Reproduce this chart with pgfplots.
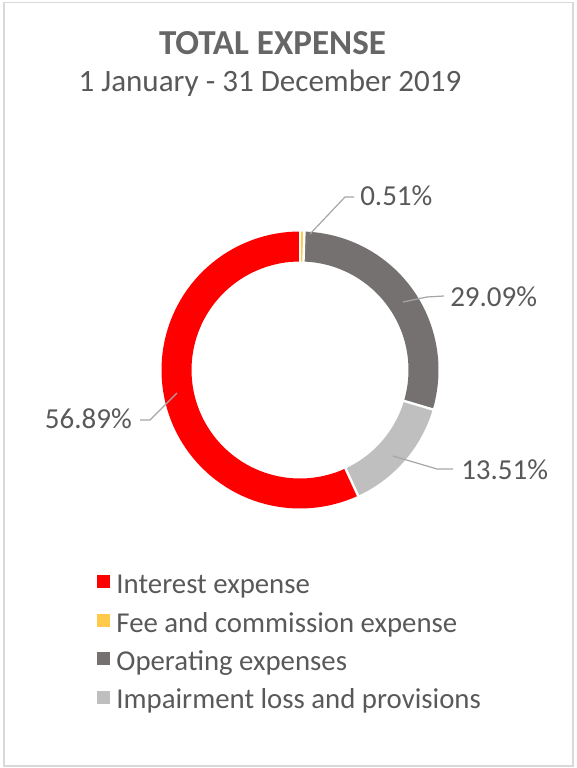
\documentclass[border=0pt]{standalone}
\usepackage{pgfplots}
\pgfplotsset{compat=1.18}
\usepackage{pgfplotstable}
\usepackage{fontspec}
\setmainfont{Carlito}
\definecolor{cRed}{HTML}{FF0000}
\definecolor{cYel}{HTML}{FFC94A}
\definecolor{cDark}{HTML}{767171}
\definecolor{cLight}{HTML}{BFBFBF}
\definecolor{txt}{HTML}{595959}
\definecolor{ttl}{HTML}{666666}
\definecolor{lead}{HTML}{A6A6A6}
\definecolor{frame}{HTML}{D9D9D9}

\pgfplotstableread{
name value
Interest 56.89
Fee 0.51
Operating 29.09
Impairment 13.51
}\expdata

\pgfplotstablegetelem{0}{value}\of\expdata \let\vInt\pgfplotsretval
\pgfplotstablegetelem{1}{value}\of\expdata \let\vFee\pgfplotsretval
\pgfplotstablegetelem{2}{value}\of\expdata \let\vOpe\pgfplotsretval
\pgfplotstablegetelem{3}{value}\of\expdata \let\vImp\pgfplotsretval

% cumulative angles, counter-clockwise from the top
\pgfmathsetmacro\aA{90}
\pgfmathsetmacro\aB{\aA+3.6*\vInt}
\pgfmathsetmacro\aC{\aB+3.6*\vImp}
\pgfmathsetmacro\aD{\aC+3.6*\vOpe}
\pgfmathsetmacro\aE{\aD+3.6*\vFee}

\newcommand{\seg}[3]{%
  \addplot[draw=#1, line width=22.5pt, domain=#2:#3, samples=80, variable=\t, forget plot]
    ({300+123.5*cos(t)},{-370+123.5*sin(t)});}
\newcommand{\sep}[1]{%
  \addplot[draw=white, line width=1.8pt, domain=105:142, samples=2, variable=\r, forget plot]
    ({300+r*cos(#1)},{-370+r*sin(#1)});}
\newcommand{\legsq}[1]{\fill[#1] (0pt,-1pt) rectangle (9pt,8pt); \path (13pt,0pt);}

\begin{document}
\begin{tikzpicture}
\begin{axis}[
  width=432pt, height=576pt, scale only axis,
  xmin=0, xmax=576, ymin=-768, ymax=0,
  axis lines=none, clip=false,
  legend cell align=left,
  legend style={at={(axis cs:93,-568)}, anchor=north west, draw=none, fill=none,
    font=\fontsize{21.6}{26}\selectfont, text=txt, row sep=5.8pt,
    nodes={text height=16pt, text depth=5pt, inner sep=1pt}},
]
\path (rel axis cs:0,0) rectangle (rel axis cs:1,1);
\draw[frame, line width=1.2pt] (axis cs:4,-2.5) rectangle (axis cs:573,-766);

\seg{cRed}{\aA}{\aB}
\seg{cLight}{\aB}{\aC}
\seg{cDark}{\aC}{\aD}
\seg{cYel}{\aD}{\aE}
\sep{\aA}\sep{\aB}\sep{\aC}\sep{\aD}

% leader lines
\addplot[lead, line width=0.9pt, forget plot] coordinates {(310,-234) (345,-197) (354,-197)};
\addplot[lead, line width=0.9pt, forget plot] coordinates {(403,-302) (427,-297) (444,-296)};
\addplot[lead, line width=0.9pt, forget plot] coordinates {(393,-456) (437,-469) (453,-469)};
\addplot[lead, line width=0.9pt, forget plot] coordinates {(177,-393) (150,-420) (140,-420)};

\begin{scope}[every node/.style={inner sep=0pt, text=txt, font=\fontsize{21.75}{26}\selectfont}]
\node[anchor=base west] at (axis cs:360,-206) {0.51\%};
\node[anchor=base west] at (axis cs:450,-307) {29.09\%};
\node[anchor=base west] at (axis cs:461,-480) {13.51\%};
\node[anchor=base east] at (axis cs:132,-429) {56.89\%};
\end{scope}

\node[anchor=base, inner sep=0pt, text=ttl, font=\bfseries\fontsize{26.3}{30}\selectfont] at (axis cs:272.5,-55) {TOTAL EXPENSE};
\node[anchor=base, inner sep=0pt, text=txt, font=\fontsize{23.3}{28}\selectfont] at (axis cs:270,-92) {1 January - 31 December 2019};

\addlegendimage{legend image code/.code={\legsq{cRed}}}
\addlegendentry{Interest expense}
\addlegendimage{legend image code/.code={\legsq{cYel}}}
\addlegendentry{Fee and commission expense}
\addlegendimage{legend image code/.code={\legsq{cDark}}}
\addlegendentry{Operating expenses}
\addlegendimage{legend image code/.code={\legsq{cLight}}}
\addlegendentry{Impairment loss and provisions}
\end{axis}
\end{tikzpicture}
\end{document}
